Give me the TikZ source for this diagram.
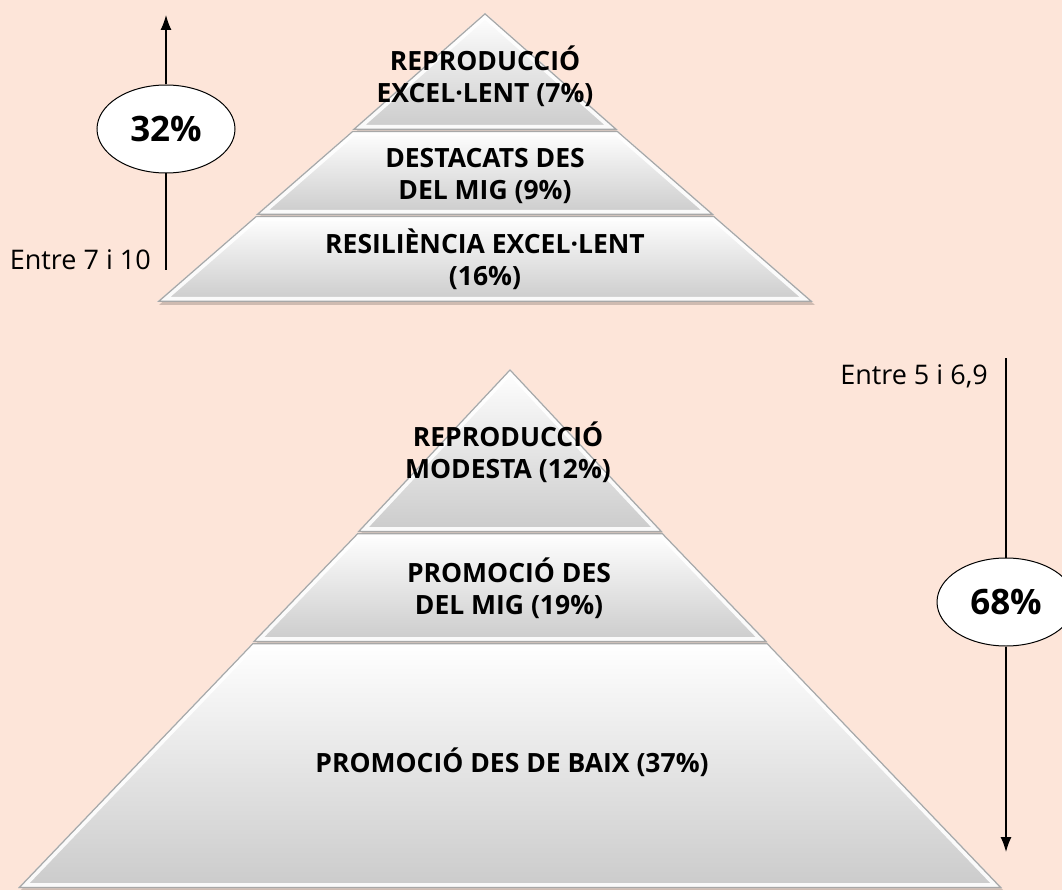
\documentclass[tikz,border=0pt]{standalone}
\usepackage{fontspec}
\setmainfont{Open Sans}
\usetikzlibrary{arrows.meta,shapes.geometric}
\definecolor{bgpeach}{HTML}{FDE5D9}
\definecolor{tierbot}{HTML}{CBCBCB}
\definecolor{tieredge}{HTML}{A8A8A8}
\newcommand\tierdraw[1]{%
  \fill[black,opacity=0.18,shift={(2,3)}] #1 -- cycle;
  \shade[top color=white,bottom color=tierbot] #1 -- cycle;
  \begin{scope}
    \clip #1 -- cycle;
    \draw[white,opacity=0.9,line width=10pt,line join=round] #1 -- cycle;
    \draw[tieredge,line width=2.5pt,line join=round] #1 -- cycle;
  \end{scope}
}
\begin{document}
\begin{tikzpicture}[x=1pt,y=-1pt,
  tiertext/.style={font=\bfseries\fontsize{26.5}{32}\selectfont,align=center,text=black,inner sep=0pt},
  lbl/.style={font=\fontsize{27}{30}\selectfont,text=black,inner sep=0pt},
  pct/.style={draw=black,line width=1pt,fill=white,ellipse,minimum width=138pt,minimum height=88pt,inner sep=0pt,font=\bfseries\fontsize{35}{40}\selectfont},
  conn/.style={line width=1.3pt},
  arr/.style={line width=1.3pt,-{Latex[length=15pt,width=11pt]}}]
\fill[bgpeach] (0,0) rectangle (1062,890);
\useasboundingbox (0,0) rectangle (1062,890);
\clip (0,0) rectangle (1062,890);

% top pyramid
\tierdraw{(485,13) -- (617.8,130) -- (352.2,130)}
\tierdraw{(352.2,131) -- (617.8,131) -- (714.2,215) -- (255.8,215)}
\tierdraw{(255.8,216) -- (714.2,216) -- (813,302) -- (157,302)}

% bottom pyramid
\tierdraw{(510,369) -- (662.6,532) -- (357.4,532)}
\tierdraw{(357.4,533) -- (662.6,533) -- (767.4,642) -- (252.6,642)}
\tierdraw{(252.6,643) -- (767.4,643) -- (1002,888) -- (18,888)}

% tier texts
\node[tiertext] (t1) at (485,76) {REPRODUCCIÓ\\EXCEL·LENT (7\%)};
\node[tiertext] (t2) at (485,176) {DESTACATS DES\\DEL MIG (9\%)};
\node[tiertext] (t3) at (485,259) {RESILIÈNCIA EXCEL·LENT\\(16\%)};
\node[tiertext] (b1) at (508,452) {REPRODUCCIÓ\\MODESTA (12\%)};
\node[tiertext] (b2) at (509,588) {PROMOCIÓ DES\\DEL MIG (19\%)};
\node[tiertext] (b3) at (512,762) {PROMOCIÓ DES DE BAIX (37\%)};

% left arrow
\coordinate (lb) at (166,270);
\coordinate (lt) at (166,15);
\node[pct] (p32) at (166,129) {32\%};
\draw[conn] (lb) -- (p32.south);
\draw[arr] (p32.north) -- (lt);
\node[lbl,anchor=base east] (l710) at (151,270) {Entre 7 i 10};

% right arrow
\coordinate (rt) at (1006,358);
\coordinate (rb) at (1006,852);
\node[pct] (p68) at (1006,602) {68\%};
\draw[conn] (rt) -- (p68.north);
\draw[arr] (p68.south) -- (rb);
\node[lbl,anchor=base east] (l569) at (988,384) {Entre 5 i 6,9};
\end{tikzpicture}
\end{document}
